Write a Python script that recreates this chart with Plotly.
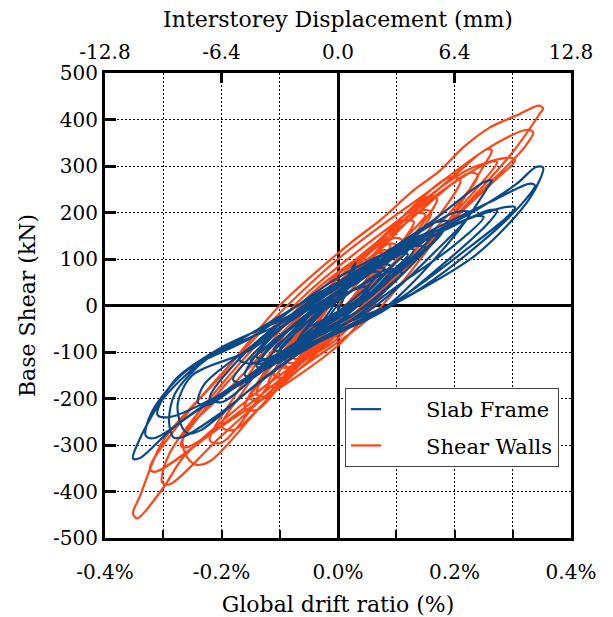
import plotly.graph_objects as go

# Hysteresis response: global drift ratio (%) vs base shear (kN), one path per system
slab_frame_path = [
    (0.0, 0), (0.0, -10), (0.02, 50), (0.03, 92), (0.022, 75), (0.0, 15), (-0.03, -40), (-0.04, -60), (-0.032, -58),
    (0.0, -15), (0.05, 40), (0.07, 72), (0.055, 70), (0.0, 18), (-0.05, -45), (-0.07, -78), (-0.055, -78),
    (-0.03, -40), (0.03, 0), (0.09, 70), (0.12, 110), (0.1, 108), (0.03, 50), (-0.04, -10), (-0.08, -70), (-0.1, -100), (-0.085, -102),
    (-0.04, -55), (0.04, 5), (0.12, 95), (0.16, 150), (0.14, 150), (0.05, 75), (-0.04, -5), (-0.11, -80), (-0.14, -130), (-0.12, -133),
    (-0.06, -75), (0.05, 0), (0.14, 105), (0.19, 180), (0.165, 178), (0.07, 95), (-0.04, 5), (-0.13, -85), (-0.18, -160), (-0.16, -165),
    (-0.08, -95), (0.06, -5), (0.17, 120), (0.227, 200), (0.2, 200), (0.1, 125), (-0.03, 25), (-0.15, -90), (-0.22, -200), (-0.2, -208),
    (-0.1, -110), (0.07, -15), (0.2, 150), (0.255, 250), (0.264, 269), (0.25, 265), (0.16, 180), (0.0, 45), (-0.15, -95),
    (-0.25, -150), (-0.275, -210), (-0.27, -255), (-0.258, -275), (-0.235, -268), (-0.15, -180), (-0.05, -90),
    (0.08, -10), (0.2, 110), (0.26, 180), (0.273, 204), (0.26, 205), (0.18, 160), (0.05, 80), (-0.1, -40), (-0.22, -110),
    (-0.28, -190), (-0.29, -250), (-0.282, -284), (-0.265, -282), (-0.2, -230), (-0.1, -130), (0.0, -55),
    (0.1, 10), (0.22, 120), (0.29, 190), (0.304, 211), (0.29, 212), (0.2, 175), (0.08, 110), (-0.08, -20), (-0.2, -90),
    (-0.28, -160), (-0.31, -235), (-0.29, -240), (-0.2, -190), (-0.1, -110), (0.0, -45),
    (0.12, 20), (0.25, 140), (0.32, 225), (0.338, 258), (0.33, 262), (0.26, 222), (0.15, 155), (0.0, 60), (-0.15, -70),
    (-0.26, -140), (-0.32, -230), (-0.33, -280), (-0.315, -285), (-0.24, -225), (-0.1, -120), (0.03, -40),
    (0.13, 26), (0.24, 112), (0.33, 232), (0.352, 297), (0.34, 298), (0.307, 262), (0.227, 198), (0.146, 146), (0.0, 50),
    (-0.17, -75), (-0.22, -107), (-0.3, -200), (-0.345, -300), (-0.352, -329), (-0.34, -328), (-0.28, -260), (-0.15, -150), (0.0, -50),
    (0.1, 40), (0.2, 130), (0.25, 190), (0.235, 192), (0.15, 140), (0.0, 30), (-0.15, -90), (-0.23, -170), (-0.24, -210), (-0.22, -212),
    (-0.12, -120), (0.0, -35), (0.08, 50), (0.16, 130), (0.18, 160), (0.165, 160), (0.08, 100), (-0.05, 0), (-0.13, -90),
    (-0.16, -150), (-0.145, -152), (-0.07, -80), (0.02, -10), (0.08, 70), (0.12, 120), (0.1, 118), (0.0, 30), (-0.09, -70),
    (-0.12, -120), (-0.1, -122), (-0.03, -50), (0.03, 0), (0.06, 55), (0.08, 80), (0.06, 78), (-0.01, 15), (-0.07, -80),
    (-0.05, -78), (0.0, -20), (0.06, 40), (0.09, 85), (0.075, 88), (0.0, 25), (-0.06, -45), (-0.1, -95), (-0.08, -98),
    (-0.02, -30), (0.05, 20), (0.1, 75), (0.13, 120), (0.11, 120), (0.04, 55), (-0.03, 0), (-0.09, -60), (-0.13, -115),
    (-0.11, -118), (-0.04, -45), (0.04, 10), (0.11, 85), (0.15, 125), (0.13, 128), (0.06, 75), (-0.02, 10), (-0.1, -70),
    (-0.15, -120), (-0.13, -125), (-0.05, -60), (0.03, -5), (0.08, 45), (0.1, 75), (0.085, 78), (0.0, 10), (-0.08, -60),
    (-0.11, -95), (-0.09, -98), (-0.02, -35), (0.04, 20), (0.05, 40), (0.03, 35), (-0.02, -5), (-0.05, -45),
    (-0.01, -20), (0.07, 40), (0.14, 110), (0.17, 150), (0.15, 152), (0.07, 90), (-0.03, 20), (-0.12, -60), (-0.17, -115),
    (-0.15, -125), (-0.07, -85), (0.02, -25), (0.09, 45), (0.11, 70), (0.095, 75), (0.02, 30), (-0.06, -30), (-0.12, -85),
    (-0.14, -110), (-0.12, -115), (-0.04, -60), (0.0, 0),
]

shear_walls_path = [
    (0.0, 0), (0.035, 50), (0.05, 80), (0.04, 82), (0.0, 25), (-0.035, -40), (-0.05, -70), (-0.04, -72),
    (0.0, -20), (0.06, 75), (0.09, 130), (0.075, 132), (0.0, 40), (-0.06, -70), (-0.09, -130), (-0.075, -135),
    (-0.03, -70), (0.03, 0), (0.1, 120), (0.13, 180), (0.11, 182), (0.03, 80), (-0.05, -30), (-0.1, -120), (-0.12, -170), (-0.105, -175),
    (-0.05, -100), (0.04, -5), (0.13, 150), (0.17, 230), (0.15, 232), (0.05, 110), (-0.06, -30), (-0.13, -150), (-0.16, -220), (-0.14, -225),
    (-0.07, -130), (0.05, -10), (0.16, 170), (0.21, 270), (0.19, 275), (0.07, 140), (-0.07, -30), (-0.16, -180), (-0.2, -260), (-0.18, -268),
    (-0.08, -150), (0.06, -20), (0.2, 200), (0.25, 300), (0.264, 333), (0.256, 336), (0.2, 280), (0.1, 170), (-0.05, 0),
    (-0.18, -170), (-0.265, -280), (-0.262, -320), (-0.245, -342), (-0.22, -335),
    (-0.12, -200), (0.0, -60), (0.12, 90), (0.23, 240), (0.273, 308), (0.265, 310), (0.2, 265), (0.08, 150), (-0.06, 0),
    (-0.2, -180), (-0.27, -300), (-0.26, -305),
    (-0.14, -200), (0.0, -50), (0.15, 130), (0.27, 270), (0.304, 312), (0.295, 318), (0.22, 290), (0.1, 180), (-0.05, 30),
    (-0.2, -170), (-0.29, -320), (-0.302, -380), (-0.29, -385),
    (-0.2, -280), (-0.05, -110), (0.1, 60), (0.25, 250), (0.32, 340), (0.335, 372), (0.325, 378), (0.26, 340), (0.15, 240),
    (0.0, 100), (-0.15, -80), (-0.27, -250), (-0.323, -350), (-0.315, -358),
    (-0.2, -260), (0.0, -86), (0.1, 60), (0.2, 190), (0.3, 330), (0.345, 410), (0.352, 424), (0.345, 430), (0.307, 409),
    (0.261, 383), (0.215, 340), (0.175, 290), (0.129, 247), (0.072, 183), (0.02, 133), (-0.1, 0), (-0.2, -150),
    (-0.3, -290), (-0.34, -410), (-0.352, -447), (-0.345, -458), (-0.3, -392), (-0.266, -327), (-0.2, -250),
    (-0.1, -150), (0.0, -70), (0.12, 100), (0.24, 280), (0.225, 285), (0.1, 160), (-0.05, 20), (-0.18, -200), (-0.22, -290), (-0.2, -295),
    (-0.08, -110), (0.05, 30), (0.16, 200), (0.145, 205), (0.05, 90), (-0.06, -50), (-0.15, -200), (-0.135, -205),
    (-0.02, -40), (0.06, 60), (0.1, 130), (0.085, 132), (0.0, 30), (-0.1, -130), (-0.085, -133), (0.0, -30),
    (0.05, 55), (0.08, 110), (0.065, 112), (0.0, 30), (-0.05, -60), (-0.08, -110), (-0.065, -115),
    (-0.02, -40), (0.05, 40), (0.11, 140), (0.095, 145), (0.02, 50), (-0.06, -60), (-0.11, -150), (-0.095, -155),
    (-0.03, -60), (0.04, 20), (0.12, 150), (0.15, 195), (0.13, 198), (0.05, 95), (-0.04, -20), (-0.12, -140),
    (-0.14, -190), (-0.12, -195), (-0.04, -80), (0.02, 0), (0.07, 80), (0.09, 115), (0.075, 118), (0.0, 20),
    (-0.07, -90), (-0.09, -120), (-0.075, -123), (0.0, -20), (0.0, 0),
]

drift_ticks = [-0.4, -0.2, 0.0, 0.2, 0.4]
drift_labels = ["-0.4%", "-0.2%", "0.0%", "0.2%", "0.4%"]
disp_ticks = [-12.8, -6.4, 0.0, 6.4, 12.8]
disp_labels = ["-12.8", "-6.4", "0.0", "6.4", "12.8"]
shear_ticks = [-500, -400, -300, -200, -100, 0, 100, 200, 300, 400, 500]
shear_labels = [str(v) for v in shear_ticks]

BLUE = "#0a4a88"
ORANGE = "#ff4513"
FONT = "DejaVu Serif"
PAD = "\u00a0" * 6  # spacing between legend line sample and label

fig = go.Figure()
# shear walls drawn first so the slab-frame loops sit on top; legend lists slab frame first
for name, path, color, rank in [("Shear Walls", shear_walls_path, ORANGE, 2),
                                ("Slab Frame", slab_frame_path, BLUE, 1)]:
    xs, ys = zip(*path)
    fig.add_trace(go.Scatter(
        x=list(xs), y=list(ys), mode="lines", name=PAD + name, legendgroup=name,
        legendrank=rank,
        line=dict(color=color, width=2.2, shape="spline", smoothing=0.9),
    ))

# invisible trace so the top displacement axis is drawn
fig.add_trace(go.Scatter(x=[0], y=[0], xaxis="x2", mode="markers",
                         marker=dict(opacity=0), showlegend=False, hoverinfo="skip"))

grid = dict(showgrid=True, gridcolor="black", gridwidth=1, griddash="2px,2px")

fig.update_layout(
    width=613, height=617,
    margin=dict(l=105, r=42, t=73, b=79),
    paper_bgcolor="white", plot_bgcolor="white",
    font=dict(family=FONT, size=20, color="black"),
    showlegend=True,
    legend=dict(
        x=0.515, y=0.3226, xanchor="left", yanchor="top",
        bgcolor="white", bordercolor="#444", borderwidth=1,
        font=dict(family=FONT, size=21), itemwidth=30, tracegroupgap=6,
    ),
    xaxis=dict(
        range=[-0.4, 0.4], tickvals=drift_ticks, ticktext=drift_labels,
        ticks="inside", ticklen=8, tickwidth=2, tickcolor="black",
        ticklabelstandoff=14, automargin=False,
        minor=dict(dtick=0.1, tick0=0, ticks="inside", ticklen=8, tickwidth=2,
                   tickcolor="black", showgrid=True, gridcolor="black", gridwidth=1,
                   griddash="2px,2px"),
        showline=True, linewidth=3, linecolor="black", mirror=True,
        zeroline=True, zerolinewidth=3, zerolinecolor="black",
        title=dict(text="Global drift ratio (%)", font=dict(size=22), standoff=18),
        **grid,
    ),
    xaxis2=dict(
        overlaying="x", side="top", range=[-12.8, 12.8],
        tickvals=disp_ticks, ticktext=disp_labels, automargin=False,
        ticks="inside", ticklen=10, tickwidth=3, tickcolor="black",
        ticklabelstandoff=9, showgrid=False, zeroline=False, showline=False,
        title=dict(text="Interstorey Displacement (mm)", font=dict(size=22), standoff=6),
    ),
    yaxis=dict(
        range=[-500, 500], tickvals=shear_ticks, ticktext=shear_labels,
        ticks="inside", ticklen=11, tickwidth=3, tickcolor="black", automargin=False,
        showline=True, linewidth=3, linecolor="black", mirror=True,
        zeroline=True, zerolinewidth=3, zerolinecolor="black",
        title=dict(text="Base Shear (kN)", font=dict(size=22), standoff=12),
        **grid,
    ),
)

fig.write_html("out.html")
